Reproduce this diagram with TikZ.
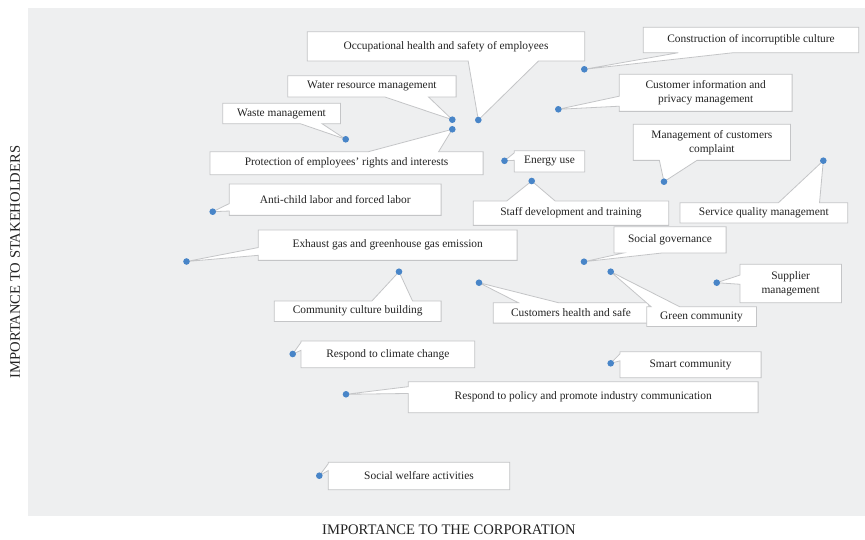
\documentclass[tikz,border=0pt]{standalone}
\usepackage{fontspec}
\setmainfont{Liberation Serif}
\usetikzlibrary{calc,backgrounds}

\definecolor{plotbg}{RGB}{238,239,240}
\definecolor{boxline}{RGB}{196,197,199}
\definecolor{dotblue}{RGB}{72,133,200}
\definecolor{labeltext}{RGB}{35,35,35}

\tikzset{
  issue/.style={anchor=north west, inner sep=0pt, text=labeltext, align=center,
    font=\fontsize{11.4}{14}\selectfont},
  callout/.style={fill=white, draw=boxline, line width=0.8pt},
  topic/.style={circle, fill=dotblue, inner sep=0pt, minimum size=6.6pt},
  axislabel/.style={text=labeltext, font=\fontsize{14.6}{17}\selectfont}
}

\begin{document}
\begin{tikzpicture}[x=1pt,y=-1pt]
\useasboundingbox (0,0) rectangle (865,540);

% plot area
\begin{pgfonlayer}{background}
\fill[plotbg] (28,8) rectangle (865,516);
\end{pgfonlayer}

% axes
\node[axislabel] (xaxis) at (449,530) {IMPORTANCE TO THE CORPORATION};
\node[axislabel, rotate=90] (yaxis) at (15,262) {IMPORTANCE TO STAKEHOLDERS};

% issue boxes
\node[issue, minimum width=277pt, minimum height=29pt] (occup) at (307.3,31.7) {Occupational health and safety of employees};
\node[issue, minimum width=215pt, minimum height=25pt] (constr) at (643.3,27.3) {Construction of incorruptible culture};
\node[issue, minimum width=168pt, minimum height=21pt] (water) at (287.7,75.7) {Water resource management};
\node[issue, minimum width=172.4pt, minimum height=36.7pt] (privacy) at (619.3,74.3) {Customer information and\\privacy management};
\node[issue, minimum width=117.3pt, minimum height=20pt] (waste) at (222.7,103.3) {Waste management};
\node[issue, minimum width=156.7pt, minimum height=35.7pt] (complaint) at (633.3,124.3) {Management of customers\\complaint};
\node[issue, minimum width=272.7pt, minimum height=22.6pt] (protect) at (210,151.7) {Protection of employees' rights and interests};
\node[issue, minimum width=70pt, minimum height=21pt] (energy) at (514.3,150.7) {Energy use};
\node[issue, minimum width=211.4pt, minimum height=31pt] (labor) at (229.3,184) {Anti-child labor and forced labor};
\node[issue, minimum width=195pt, minimum height=24pt] (staff) at (473.3,201) {Staff development and training};
\node[issue, minimum width=167.3pt, minimum height=20pt] (service) at (680,202.7) {Service quality management};
\node[issue, minimum width=258.4pt, minimum height=30pt] (exhaust) at (258.3,230) {Exhaust gas and greenhouse gas emission};
\node[issue, minimum width=111.7pt, minimum height=26pt] (govern) at (614,226.7) {Social governance};
\node[issue, minimum width=101pt, minimum height=38pt] (supplier) at (740,264.3) {Supplier\\management};
\node[issue, minimum width=166.4pt, minimum height=20pt] (culture) at (274.3,301) {Community culture building};
\node[issue, minimum width=155pt, minimum height=20pt] (health) at (493.3,302.7) {Customers health and safe};
\node[issue, minimum width=109.3pt, minimum height=19.3pt] (green) at (646.7,306.7) {Green community};
\node[issue, minimum width=173.3pt, minimum height=26.3pt] (climate) at (301,341) {Respond to climate change};
\node[issue, minimum width=140.7pt, minimum height=25.6pt] (smart) at (620,351.7) {Smart community};
\node[issue, minimum width=349.4pt, minimum height=30.6pt] (policy) at (408.3,381.7) {Respond to policy and promote industry communication};
\node[issue, minimum width=181pt, minimum height=27pt] (welfare) at (328.3,462.3) {Social welfare activities};

% topics
\node[topic] (occup-pt) at (478.3,120) {};
\node[topic] (constr-pt) at (584.3,69.3) {};
\node[topic] (water-pt) at (452.3,119.7) {};
\node[topic] (privacy-pt) at (558.3,109.3) {};
\node[topic] (waste-pt) at (345.7,139.3) {};
\node[topic] (complaint-pt) at (664,181.7) {};
\node[topic] (protect-pt) at (452.3,129.3) {};
\node[topic] (energy-pt) at (504.5,160.8) {};
\node[topic] (labor-pt) at (212.7,211.7) {};
\node[topic] (staff-pt) at (531.7,181) {};
\node[topic] (service-pt) at (823.3,160.7) {};
\node[topic] (exhaust-pt) at (186.5,261.5) {};
\node[topic] (govern-pt) at (584,261.7) {};
\node[topic] (supplier-pt) at (716.7,282.7) {};
\node[topic] (culture-pt) at (399,271.7) {};
\node[topic] (health-pt) at (479,282.7) {};
\node[topic] (green-pt) at (610.7,271.7) {};
\node[topic] (climate-pt) at (292.7,354) {};
\node[topic] (smart-pt) at (610.7,363.3) {};
\node[topic] (policy-pt) at (346,394.3) {};
\node[topic] (welfare-pt) at (319.3,475.7) {};

% callout outlines
\begin{pgfonlayer}{background}
% tail below the box
\foreach \b/\p/\q in {occup/0.58/0.833, water/0.579/0.837, waste/0.659/0.844,
    constr/0.163/0.419, complaint/0.166/0.405, govern/0.08/0.42}
  \filldraw[callout] (\b.south west) -- ($(\b.south west)!\p!(\b.south east)$)
    -- (\b-pt.center) -- ($(\b.south west)!\q!(\b.south east)$)
    -- (\b.south east) -- (\b.north east) -- (\b.north west) -- cycle;
% tail above the box
\foreach \b/\p/\q in {protect/0.58/0.837, service/0.587/0.832, culture/0.585/0.829,
    staff/0.171/0.419, health/0.161/0.419, green/0.04/0.3}
  \filldraw[callout] (\b.north west) -- ($(\b.north west)!\p!(\b.north east)$)
    -- (\b-pt.center) -- ($(\b.north west)!\q!(\b.north east)$)
    -- (\b.north east) -- (\b.south east) -- (\b.south west) -- cycle;
% tail left of the box
\foreach \b/\p/\q in {energy/0.1/0.45, privacy/0.59/0.86, labor/0.623/0.861,
    exhaust/0.577/0.833, supplier/0.28/0.52, climate/0.05/0.35,
    smart/0.08/0.35, policy/0.16/0.38, welfare/0.05/0.3}
  \filldraw[callout] (\b.north west) -- ($(\b.north west)!\p!(\b.south west)$)
    -- (\b-pt.center) -- ($(\b.north west)!\q!(\b.south west)$)
    -- (\b.south west) -- (\b.south east) -- (\b.north east) -- cycle;
\end{pgfonlayer}

\end{tikzpicture}
\end{document}
